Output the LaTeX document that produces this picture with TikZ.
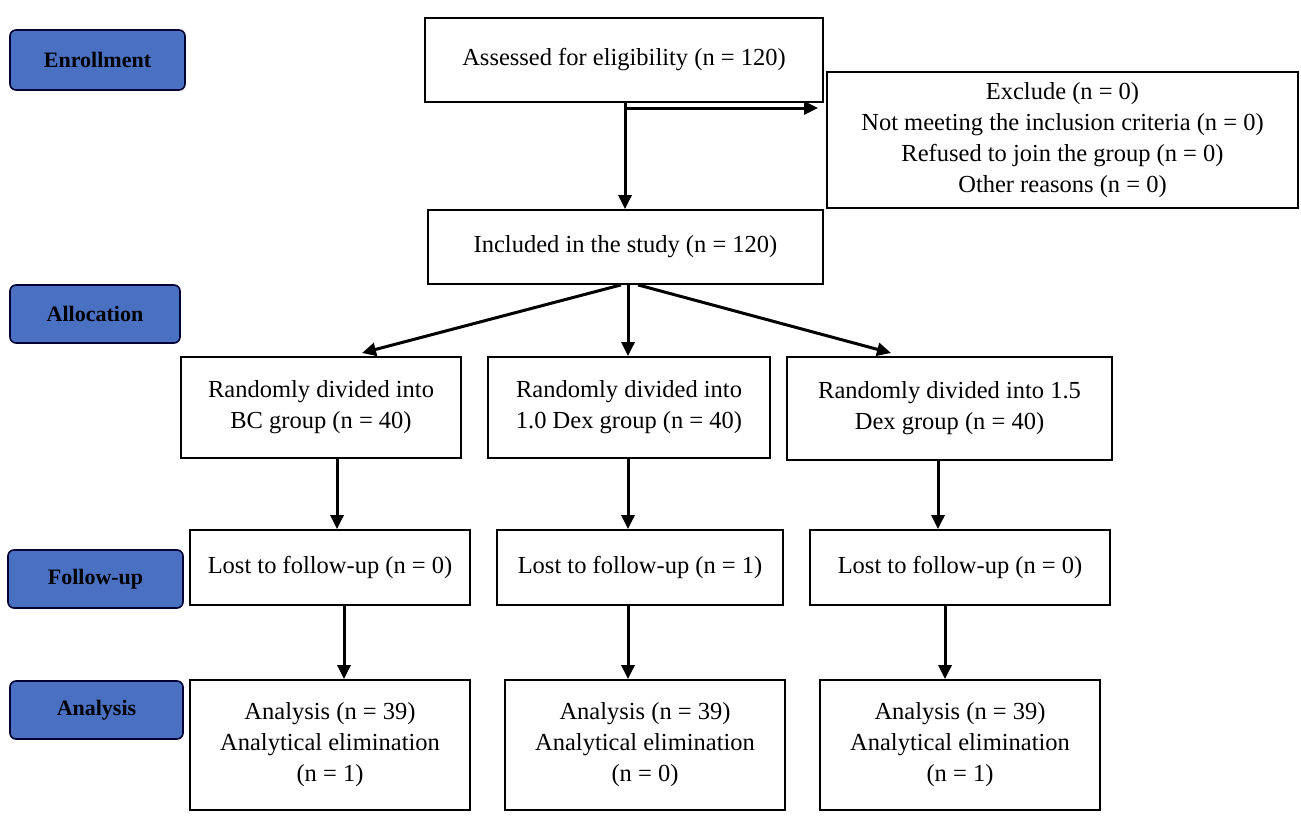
\documentclass[tikz,border=0pt]{standalone}
\usepackage{fontspec}
\setmainfont{Liberation Serif}
\usetikzlibrary{arrows.meta}
\begin{document}
\begin{tikzpicture}[x=1pt,y=-1pt,
 box/.style={draw,line width=1.8pt,align=center,font=\fontsize{24.5}{31}\selectfont,inner sep=0pt},
 lab/.style={draw=black!80!blue,line width=1.6pt,fill={rgb,255:red,74;green,112;blue,193},rounded corners=6pt,font=\bfseries\fontsize{22}{26}\selectfont,inner sep=0pt},
 arr/.style={line width=3pt,-{Triangle[length=14pt,width=13pt]}}]
\useasboundingbox (0,0) rectangle (1301,816);
\newcommand{\bx}[6]{\node[#1,minimum width=#4-#2,minimum height=#5-#3] (#6) at ({(#2+#4)/2},{(#3+#5)/2})}
\bx{lab}{10}{30}{185}{90}{l1}{Enrollment};
\bx{lab}{10}{285}{180}{343}{l2}{Allocation};
\bx{lab}{8}{550}{183}{608}{l3}{Follow-up};
\bx{lab}{10}{681}{183}{739}{l4}{Analysis};
\bx{box}{425}{18}{823}{102}{a}{Assessed for eligibility (n = 120)};
\bx{box}{827}{72}{1298}{208}{ex}{Exclude (n = 0)\\Not meeting the inclusion criteria (n = 0)\\Refused to join the group (n = 0)\\Other reasons (n = 0)};
\bx{box}{428}{210}{823}{284}{inc}{Included in the study (n = 120)};
\bx{box}{181}{357}{461}{458}{r1}{Randomly divided into\\BC group (n = 40)};
\bx{box}{488}{357}{770}{458}{r2}{Randomly divided into\\1.0 Dex group (n = 40)};
\bx{box}{787}{357}{1112}{460}{r3}{Randomly divided into 1.5\\Dex group (n = 40)};
\bx{box}{190}{530}{470}{605}{f1}{Lost to follow-up (n = 0)};
\bx{box}{497}{530}{783}{605}{f2}{Lost to follow-up (n = 1)};
\bx{box}{810}{530}{1110}{605}{f3}{Lost to follow-up (n = 0)};
\bx{box}{190}{680}{470}{810}{n1}{Analysis (n = 39)\\Analytical elimination\\(n = 1)};
\bx{box}{505}{680}{785}{810}{n2}{Analysis (n = 39)\\Analytical elimination\\(n = 0)};
\bx{box}{820}{680}{1100}{810}{n3}{Analysis (n = 39)\\Analytical elimination\\(n = 1)};
\coordinate (br) at (625,108);
\coordinate (xe) at (818,108);
\coordinate (xl) at (621,0); \coordinate (xm) at (628,0); \coordinate (xr) at (638,0);
\coordinate (t1) at (362,353); \coordinate (t3) at (891,353);
\coordinate (c1) at (337,0); \coordinate (c2) at (628,0); \coordinate (c3) at (938,0);
\coordinate (d1) at (344,0); \coordinate (d2) at (628,0); \coordinate (d3) at (945,0);
\draw[arr] (a.south -| br) -- (inc.north -| br);
\draw[arr] (br) -- (xe);
\draw[arr] (inc.south -| xl) -- (t1);
\draw[arr] (inc.south -| xm) -- (r2.north -| xm);
\draw[arr] (inc.south -| xr) -- (t3);
\draw[arr] (r1.south -| c1) -- (f1.north -| c1);
\draw[arr] (r2.south -| c2) -- (f2.north -| c2);
\draw[arr] (r3.south -| c3) -- (f3.north -| c3);
\draw[arr] (f1.south -| d1) -- (n1.north -| d1);
\draw[arr] (f2.south -| d2) -- (n2.north -| d2);
\draw[arr] (f3.south -| d3) -- (n3.north -| d3);
\end{tikzpicture}
\end{document}
